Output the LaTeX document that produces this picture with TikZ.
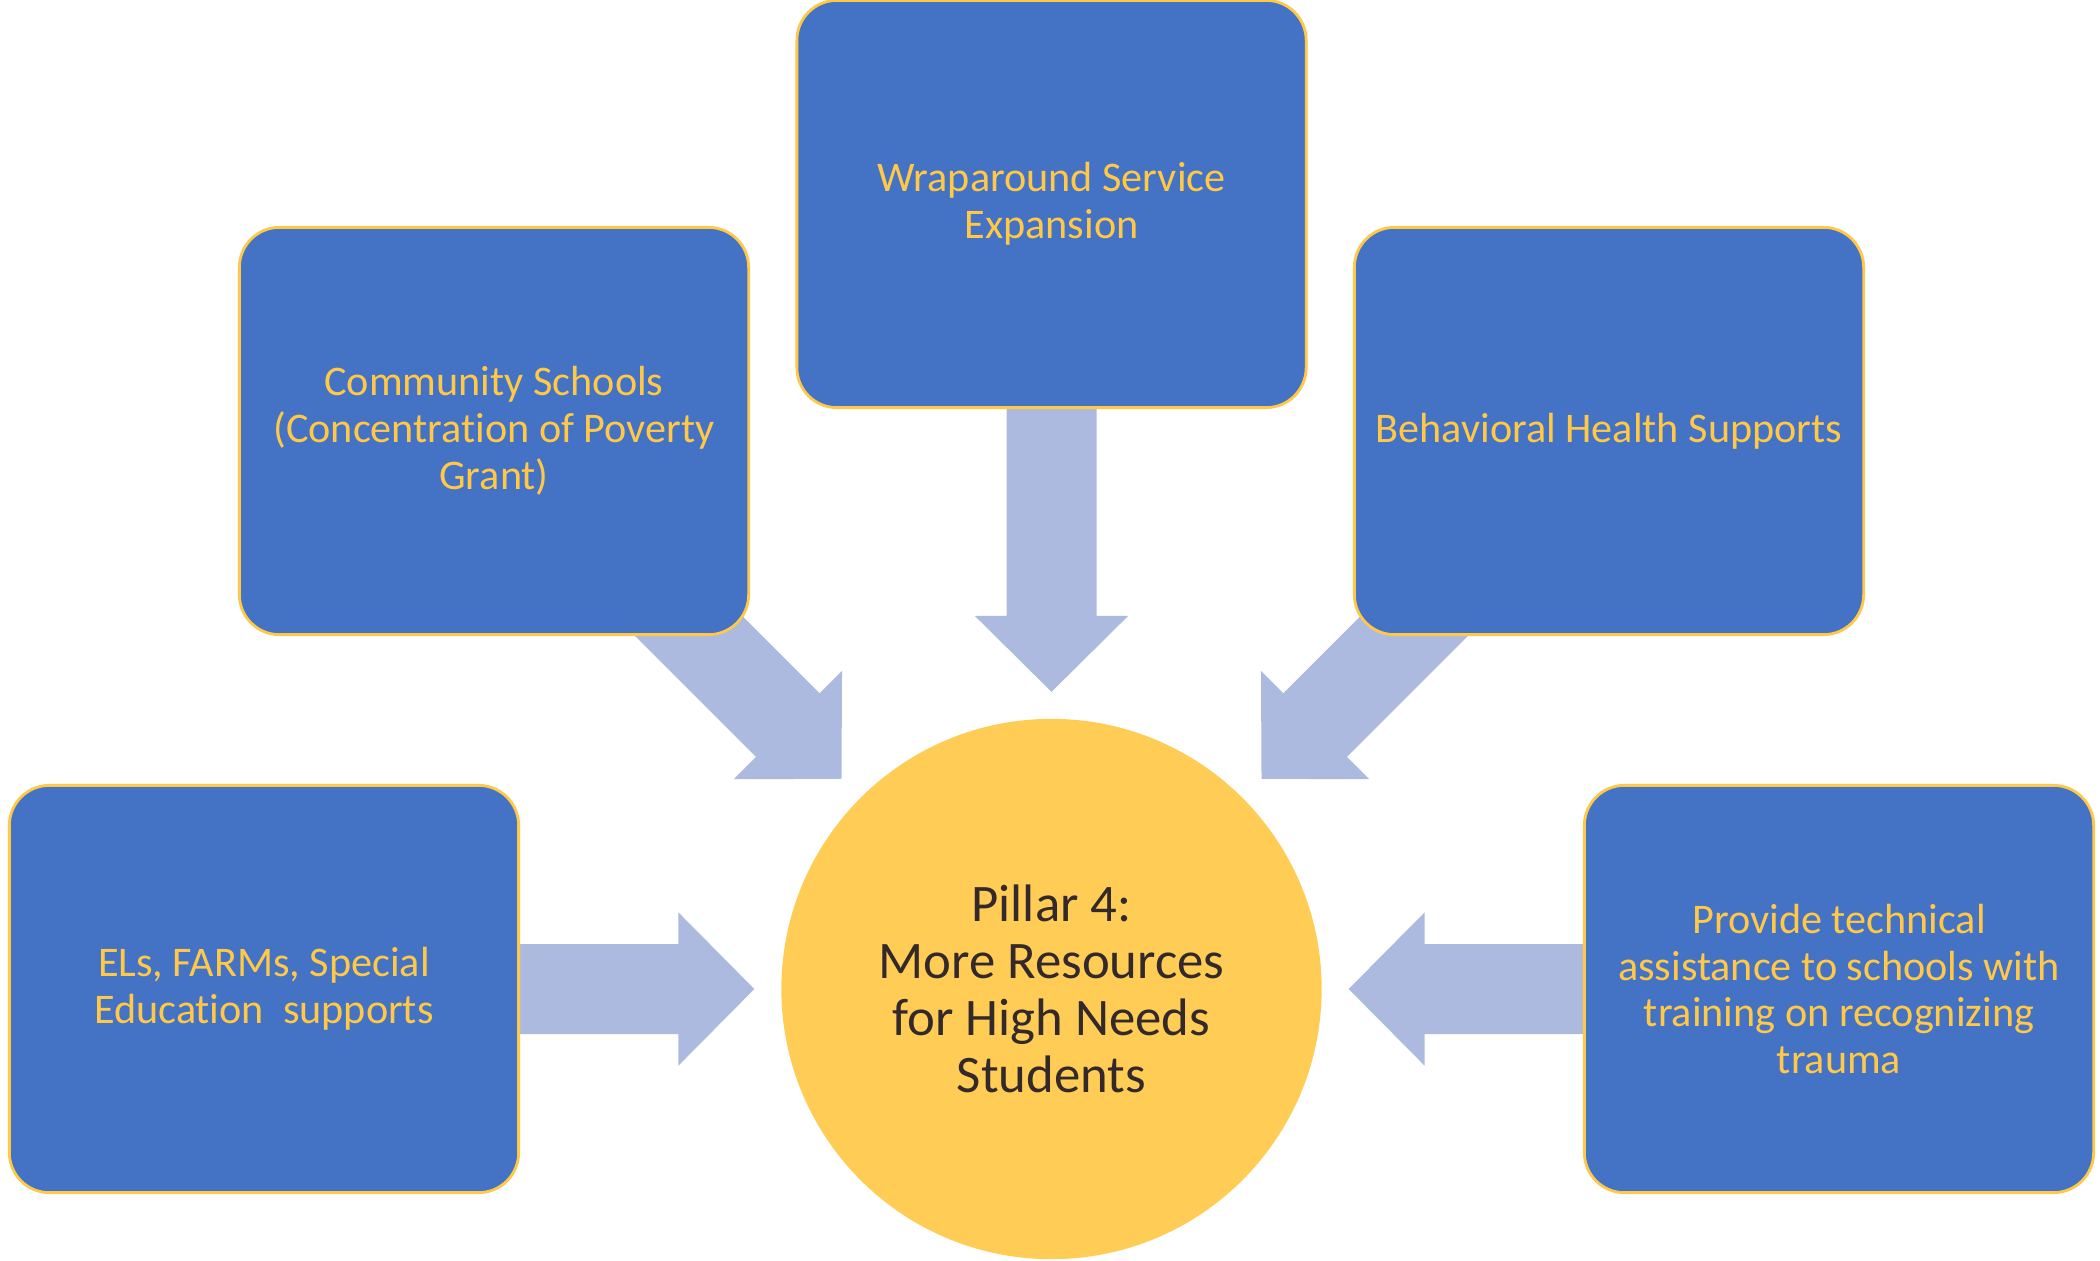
\documentclass[tikz,border=0pt]{standalone}
\usepackage{fontspec}
\setmainfont{Carlito}[Ligatures=NoCommon]
\usetikzlibrary{calc,backgrounds}

\definecolor{boxblue}{HTML}{4472C4}
\definecolor{gold}{HTML}{FFC846}
\definecolor{hubgold}{HTML}{FFCD55}
\definecolor{arrowblue}{HTML}{ADBAE0}
\definecolor{hubtext}{HTML}{33282A}

\begin{document}
\begin{tikzpicture}[x=0.01cm,y=-0.01cm,
  pillar box/.style={rectangle,rounded corners=0.4cm,draw=gold,line width=0.8pt,fill=boxblue,
    text=gold,align=center,minimum width=5.09cm,minimum height=4.07cm,
    font=\fontsize{12}{13.3}\selectfont},
  hub node/.style={circle,fill=hubgold,text=hubtext,align=center,minimum size=5.4cm,
    font=\fontsize{15}{16.2}\selectfont},
  block arrow/.style={fill=arrowblue,to path={
    let \p1=(\tikztostart), \p2=(\tikztotarget), \n1={atan2(\y2-\y1,\x2-\x1)},
        \p3=($(\p2)+(\n1:-84.5pt)$), \p4=($(\p3)+(\n1:-21.6pt)$) in
    ($(\p1)+(\n1+90:12.8pt)$) -- ($(\p4)+(\n1+90:12.8pt)$) -- ($(\p4)+(\n1+90:21.8pt)$)
    -- (\p3) -- ($(\p4)+(\n1-90:21.8pt)$) -- ($(\p4)+(\n1-90:12.8pt)$)
    -- ($(\p1)+(\n1-90:12.8pt)$) -- cycle}}]

  \useasboundingbox (0,0) rectangle (2100,1260);

  \node[hub node] (hub) at (1051.5,989) {Pillar 4:\\More Resources\\for High Needs\\Students};

  \node[pillar box] (wrap) at (1051.5,204) {Wraparound Service\\Expansion};
  \node[pillar box] (comm) at (494,431) {Community Schools\\(Concentration of Poverty\\Grant)};
  \node[pillar box] (behav) at (1609,431) {Behavioral Health Supports};
  \node[pillar box] (els) at (264,989) {ELs, FARMs, Special\\Education~~supports};
  \node[pillar box] (ta) at (1839,989) {Provide technical\\assistance to schools with\\training on recognizing\\trauma};

  \begin{scope}[on background layer]
  \path[block arrow] (wrap) to (hub);
  \path[block arrow] (comm) to (hub);
  \path[block arrow] (behav) to (hub);
  \path[block arrow] (els) to (hub);
  \path[block arrow] (ta) to (hub);
  \end{scope}
\end{tikzpicture}
\end{document}
